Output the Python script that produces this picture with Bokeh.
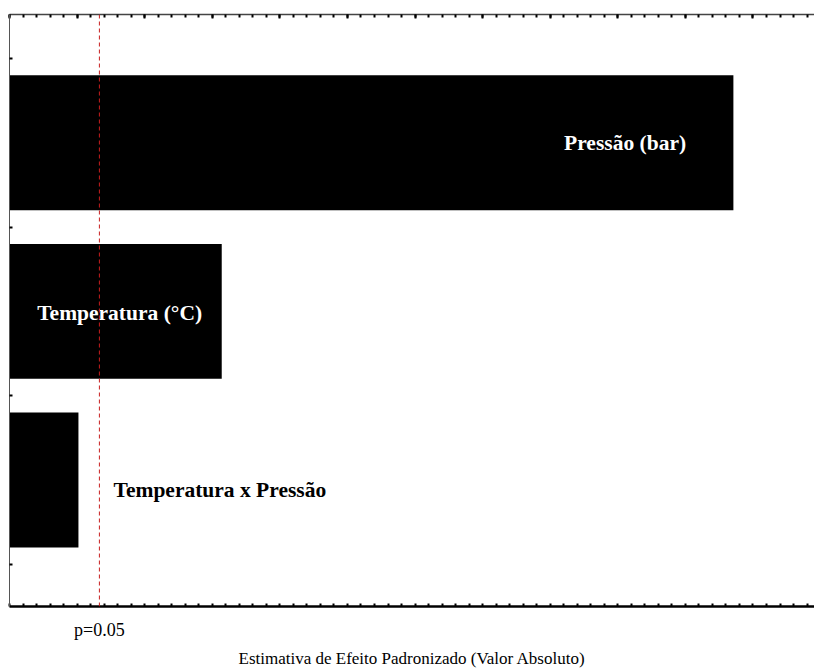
from bokeh.plotting import figure
from bokeh.models import Range1d, FixedTicker, LinearAxis, Span, Title
from bokeh.embed import file_html
from bokeh.resources import INLINE

# Standardized effects (absolute t values), Pareto order
effects = ["Temperatura x Pressão", "Temperatura (°C)", "Pressão (bar)"]
values = [1.02, 3.14, 10.71]
positions = [1, 2, 3]
p_crit = 1.33  # critical value at p = 0.05

x_major = [0, 1, 2, 3, 4, 5, 6, 7, 8, 9, 10, 11]
x_minor = [i / 5 for i in range(0, 60)]
y_bounds = [0.5, 1.5, 2.5, 3.5]

SERIF = "Liberation Serif"

p = figure(width=814, height=671,
           x_range=Range1d(0, 11.91), y_range=Range1d(0.25, 3.76),
           output_backend="svg", toolbar_location=None,
           min_border_left=9, min_border_right=0, min_border_top=14,
           min_border_bottom=65, background_fill_color="white",
           border_fill_color="white")
p.outline_line_color = None
p.grid.visible = False

# bars
p.hbar(y=positions, right=values, left=0, height=0.8,
       fill_color="black", line_color=None)

# critical value line
p.add_layout(Span(location=p_crit, dimension="height", line_color="#c81e1e",
                  line_width=1, line_dash="4 3"))

# bar labels
p.text(x=[values[2] - 0.7], y=[positions[2]], text=[effects[2]],
       text_color="white", text_align="right", text_baseline="middle",
       text_font=SERIF, text_font_style="bold", text_font_size="21.5px")
p.text(x=[values[1] / 2 + 0.06], y=[positions[1] - 0.01], text=[effects[1]],
       text_color="white", text_align="center", text_baseline="middle",
       text_font=SERIF, text_font_style="bold", text_font_size="21.5px")
p.text(x=[values[0] + 0.52], y=[positions[0] - 0.06], text=[effects[0]],
       text_color="black", text_align="left", text_baseline="middle",
       text_font=SERIF, text_font_style="bold", text_font_size="21.5px")

# bottom axis
xa = p.xaxis[0]
xa.ticker = FixedTicker(ticks=[p_crit], minor_ticks=x_minor)
xa.major_label_overrides = {p_crit: "p=0.05"}
xa.major_tick_in = 0
xa.major_tick_out = 0
xa.minor_tick_in = 3
xa.minor_tick_out = 0
xa.minor_tick_line_width = 2
xa.axis_line_width = 2.5
xa.axis_line_color = "black"
xa.major_label_text_font = SERIF
xa.major_label_text_font_size = "18px"
xa.major_label_text_color = "black"
xa.major_label_standoff = 13

# axis title below the axis
p.add_layout(Title(text="Estimativa de Efeito Padronizado (Valor Absoluto)",
                   align="center", offset=3, standoff=8,
                   text_font=SERIF, text_font_size="17px",
                   text_font_style="normal", text_color="black"), "below")

# top axis: tick marks only
top = LinearAxis(ticker=FixedTicker(ticks=x_major, minor_ticks=x_minor))
top.major_label_overrides = {t: "" for t in x_major}
top.major_label_text_font_size = "1px"
top.major_label_standoff = 0
top.major_tick_in = 4
top.major_tick_out = 0
top.minor_tick_in = 3
top.minor_tick_out = 0
top.major_tick_line_width = 2
top.minor_tick_line_width = 2
top.axis_line_width = 1.5
top.axis_line_color = "#444444"
p.add_layout(top, "above")

# left axis: tick marks at the category boundaries
ya = p.yaxis[0]
ya.ticker = FixedTicker(ticks=y_bounds)
ya.major_label_overrides = {t: "" for t in y_bounds}
ya.major_label_text_font_size = "1px"
ya.major_label_standoff = 0
ya.major_tick_in = 3
ya.major_tick_out = 0
ya.major_tick_line_width = 2
ya.minor_tick_line_color = None
ya.axis_line_color = "#555555"
ya.axis_line_width = 1

open("out.html", "w").write(file_html(p, INLINE))
